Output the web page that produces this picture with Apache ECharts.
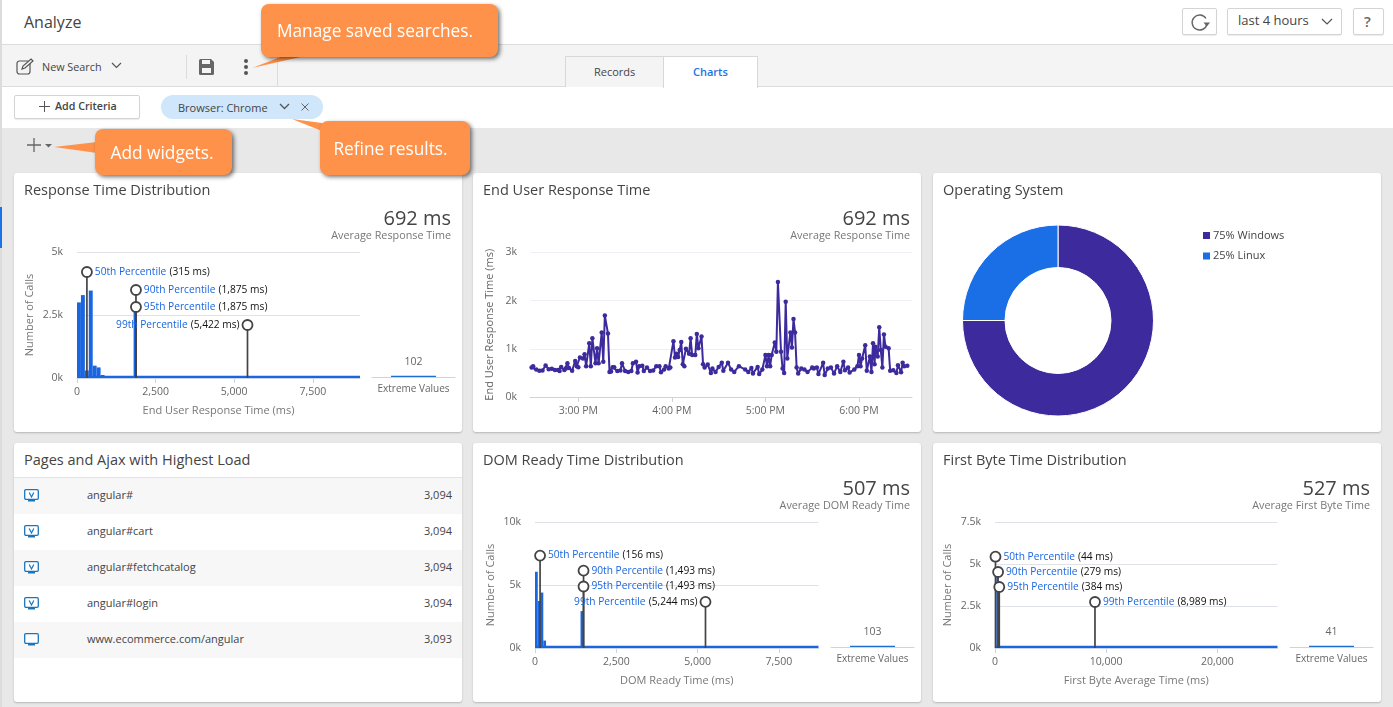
<!DOCTYPE html>
<html>
<head>
<meta charset="utf-8">
<title>Analyze</title>
<script src="https://cdn.jsdelivr.net/npm/echarts@6/dist/echarts.min.js"></script>
<style>
html,body{margin:0;padding:0;width:1393px;height:707px;overflow:hidden;background:#e8e8e8;font-family:"Open Sans",sans-serif;color:#444;}
.box{position:absolute;box-sizing:border-box;}
.txt{position:absolute;white-space:nowrap;line-height:1;}
.btn{position:absolute;box-sizing:border-box;background:#fff;border:1px solid #d4d4d4;border-radius:2px;box-shadow:0 1px 1px rgba(0,0,0,.08);}
.card{position:absolute;width:448px;height:259px;background:#fff;border-radius:3px;box-shadow:0 1px 2px rgba(0,0,0,.22);}
.callout{position:absolute;box-sizing:border-box;background:#ff924a;border-radius:8px;box-shadow:2px 2px 4px rgba(0,0,0,.55);color:#fff;font-size:17.3px;display:flex;align-items:center;justify-content:center;white-space:nowrap;z-index:21;}
svg{position:absolute;overflow:visible;}
.row{position:absolute;left:0;width:448px;height:36px;}
</style>
</head>
<body>
<!-- top bar -->
<div class="box" style="left:0;top:0;width:1393px;height:45px;background:#fff;border-bottom:1px solid #dcdcdc"></div>
<div class="box" style="left:0;top:45px;width:1393px;height:42px;background:#f4f4f4;border-bottom:1px solid #dcdcdc"></div>
<div class="box" style="left:0;top:87px;width:1393px;height:41px;background:#fff"></div>
<div class="box" style="left:0;top:0;width:2px;height:707px;background:#dcdcdc"></div>
<div class="box" style="left:0;top:207px;width:2px;height:41px;background:#1a73e8"></div>
<div class="txt" style="left:24px;top:14px;font-size:16px">Analyze</div>
<div class="btn" style="left:1182px;top:8px;width:35px;height:27px"></div>
<svg style="left:1190px;top:13px" width="20" height="18" viewBox="0 0 20 18"><path d="M16 5.500A7.500 7.500 0 1 0 17 11" fill="none" stroke="#666" stroke-width="1.400"/><path d="M13.500 9.500h6.500l-3.200 4z" fill="#666"/></svg>
<div class="btn" style="left:1227px;top:8px;width:115px;height:27px"></div>
<div class="txt" style="left:1238px;top:14px;font-size:13px">last 4 hours</div>
<svg style="left:1321px;top:18px" width="12" height="8"><path d="M1 1l5 5 5-5" fill="none" stroke="#555" stroke-width="1.2"/></svg>
<div class="btn" style="left:1353px;top:8px;width:31px;height:27px"></div>
<div class="txt" style="left:1364px;top:14px;font-size:15px;font-weight:600;color:#666">?</div>
<!-- toolbar -->
<svg style="left:16px;top:58px" width="20" height="18" viewBox="0 0 20 18"><rect x="1" y="3" width="13" height="13" rx="2.5" fill="none" stroke="#555" stroke-width="1.2"/><path d="M6 11l1-3 8-7 2 2-8 7z" fill="#f4f4f4" stroke="#555" stroke-width="1.2"/></svg>
<div class="txt" style="left:42px;top:61.700px;font-size:10.8px">New Search</div>
<svg style="left:111px;top:62px" width="12" height="8"><path d="M1 1l4.5 4.5L10 1" fill="none" stroke="#555" stroke-width="1.2"/></svg>
<div class="box" style="left:186px;top:55px;width:1px;height:24px;background:#dcdcdc"></div>
<svg style="left:198px;top:58px" width="17" height="18" viewBox="0 0 17 18"><path d="M1 2.5Q1 1 2.5 1H13l3 3v11.5Q16 17 14.500 17h-12Q1 17 1 15.500z" fill="#666"/><rect x="4" y="2" width="8" height="4" fill="#f4f4f4"/><rect x="4" y="10" width="9" height="5" fill="#f4f4f4"/></svg>
<svg style="left:243px;top:58px" width="6" height="18"><circle cx="3" cy="3" r="2" fill="#555"/><circle cx="3" cy="9" r="2" fill="#555"/><circle cx="3" cy="15" r="2" fill="#555"/></svg>
<div class="box" style="left:277px;top:45px;width:1px;height:42px;background:#dcdcdc"></div>
<div class="box" style="left:565px;top:56px;width:99px;height:31px;background:#f4f4f4;border:1px solid #d8d8d8;border-bottom:none"></div>
<div class="txt" style="left:594px;top:65.500px;font-size:11px">Records</div>
<div class="box" style="left:663px;top:56px;width:95px;height:32px;background:#fff;border:1px solid #d8d8d8;border-bottom:none"></div>
<div class="txt" style="left:693px;top:65.500px;font-size:11px;font-weight:600;color:#1a73e8">Charts</div>
<!-- criteria bar -->
<div class="btn" style="left:14px;top:95px;width:126px;height:24px"></div>
<svg style="left:39px;top:101px" width="11" height="11"><path d="M5.500 0v11M0 5.500h11" stroke="#555" stroke-width="1"/></svg>
<div class="txt" style="left:55px;top:101.200px;font-size:10.7px;font-weight:600">Add Criteria</div>
<div class="box" style="left:161px;top:95px;width:162px;height:24px;background:#cfe6fb;border-radius:12px"></div>
<div class="txt" style="left:178px;top:102px;font-size:11px">Browser: Chrome</div>
<svg style="left:279px;top:103px" width="12" height="8"><path d="M1 1l4.500 4.500L10 1" fill="none" stroke="#555" stroke-width="1.300"/></svg>
<svg style="left:301px;top:103px" width="8" height="8"><path d="M.5.5l7 7M7.500.5l-7 7" stroke="#666" stroke-width="1"/></svg>
<!-- add widget -->
<svg style="left:27px;top:138px" width="28" height="14"><path d="M7 0v14M0 7h14" stroke="#666" stroke-width="1.300"/><path d="M18 6h7l-3.500 3.500z" fill="#666"/></svg>

<!-- panels -->
<div class="card" style="left:14px;top:173px" id="rtDistID"></div>
<div class="card" style="left:473px;top:173px" id="rtLineID"></div>
<div class="card" style="left:933px;top:173px" id="osPieID"></div>
<div class="card" style="left:14px;top:443px" id="pagesID"></div>
<div class="card" style="left:473px;top:443px" id="domDistID"></div>
<div class="card" style="left:933px;top:443px" id="fbDistID"></div>

<!-- callouts -->
<svg style="left:0;top:0;z-index:20" width="1393" height="707">
	<polygon points="252,68 283,56 305,56" fill="#ff924a"/>
	<polygon points="54,147 97,142 97,153" fill="#ff924a"/>
	<polygon points="292,119 322,123 322,131" fill="#ff924a"/>
</svg>
<div class="callout" style="left:261px;top:4px;width:237px;height:53px;padding-right:9px">Manage saved searches.</div>
<div class="callout" style="left:95px;top:129px;width:137px;height:46px;padding-right:3px">Add widgets.</div>
<div class="callout" style="left:320px;top:121px;width:150px;height:54px;padding-right:9px">Refine results.</div>

<script>
//Response time distribution
var rtBinStarts=[0,125,250,375,500,625,750,1800,0];
var rtBinEnds=[125,250,375,500,625,750,875,1900,9000];
var rtBinCounts=[3000,3290,300,3470,490,420,120,2800,90];
var rtPctNames=["50th Percentile","90th Percentile","95th Percentile","99th Percentile"];
var rtPctValues=[315,1875,1875,5422];
var rtPctHeights=[4206,3492,2817,2103];
var rtExtreme=[102];
//DOM ready distribution
var domBinStarts=[0,85,170,255,1400,0];
var domBinEnds=[85,170,255,340,1490,8720];
var domBinCounts=[6050,3730,4400,590,2930,180];
var domPctValues=[156,1493,1493,5244];
var domPctHeights=[7336,6136,4880,3656];
var domExtreme=[103];
//First byte distribution
var fbBinStarts=[0,130,260,0];
var fbBinEnds=[130,260,390,25400];
var fbBinCounts=[4600,4400,3600,135];
var fbPctValues=[44,279,384,8989];
var fbPctHeights=[5434,4524,3630,2738];
var fbExtreme=[41];
//End user response time: minutes after 14:00, ms
var lineMinutes=[30,31,33,35,37,39,41,43,45,47,48,49,51,52,53,54,56,58,59,60,61,63,64,65,67,68,69,71,72,73,75,76,77,79,80,81,82,83,85,87,88,90,92,94,95,97,98,99,101,102,104,106,108,110,112,113,115,116,118,119,121,122,123,124,125,126,127,128,129,131,132,133,135,136,137,139,140,141,143,145,146,148,150,152,153,156,158,160,163,167,169,171,172,175,176,178,180,181,182,183,184,186,187,188,190,191,192,193,194,196,197,198,199,200,201,203,205,207,210,211,213,214,217,218,220,222,224,226,228,230,231,233,234,237,239,240,241,242,244,245,247,248,249,250,250.500,252,253,254,255,256,257,259,260,262,264,265,267,268,269,271];
var lineValues=[610,640,570,545,550,655,575,585,560,560,540,625,560,590,700,600,545,750,640,620,820,800,890,640,1115,640,1220,700,1010,700,1340,730,1690,1320,520,530,620,620,540,550,700,540,520,540,700,730,510,640,650,540,610,540,550,640,640,515,570,640,590,610,1160,820,900,830,975,1140,680,640,1000,900,1220,870,870,1310,1010,1255,680,610,675,500,590,520,625,710,545,710,570,520,640,570,520,600,490,625,475,570,870,640,870,640,870,1130,940,2390,940,590,500,1980,800,1340,1030,1620,1340,610,490,590,570,520,610,590,610,475,710,455,590,610,490,640,520,730,555,610,510,570,640,870,640,800,1075,545,840,520,1115,680,1045,840,1450,975,610,1300,1045,1010,545,555,500,660,515,710,640,650];
//Operating system
var osNames=["Windows","Linux"];
var osShares=[75,25];
//Pages table
var pageNames=["angular#","angular#cart","angular#fetchcatalog","angular#login","www.ecommerce.com/angular"];
var pageLoads=["3,094","3,094","3,094","3,094","3,093"];

var FONT='"Open Sans",sans-serif';
var BLUE='#1a66e0';
var PURPLE='#3d2a9c';
var AXIS_COLOR='#c8d5e8';
var GRID_COLOR='#dfe3e9';

function kLabel(value){
	return (value/1000)+'k';
}
function thousands(value){
	return String(value).replace(/\B(?=(\d{3})+$)/g,',');
}
function panelTitles(title, big, small){
	var list=[{text:title, left:5, top:5, textStyle:{fontFamily:FONT, fontSize:14.500, fontWeight:'normal', color:'#444'}}];
	if(big!=null){
		list.push({text:big, right:6, top:31, textStyle:{fontFamily:FONT, fontSize:20, fontWeight:'normal', color:'#444'}});
		list.push({text:small, right:6, top:52, textStyle:{fontFamily:FONT, fontSize:10.800, fontWeight:'normal', color:'#777'}});
	}
	return list;
}

function showHistogram(domID, cfg){
	var chart=echarts.init(document.getElementById(domID));
	var bins=[];
	for(var i=0;i<cfg.starts.length;i++){
		bins.push([cfg.starts[i],cfg.ends[i],cfg.counts[i]]);
	}
	var stems=[];
	var heads=[];
	for(var j=0;j<cfg.pctValues.length;j++){
		stems.push([cfg.pctValues[j],cfg.pctHeights[j]]);
		heads.push({
			value:[cfg.pctValues[j],cfg.pctHeights[j]],
			label:{
				position:cfg.leftLabel.indexOf(j)>=0?'left':'right',
				formatter:'{n|'+rtPctNames[j]+'} {v|('+thousands(cfg.pctValues[j])+' ms)}'
			}
		});
	}
	var option={
		animation:false,
		textStyle:{fontFamily:FONT},
		title:panelTitles(cfg.title,cfg.big,cfg.small),
		grid:[
			{left:cfg.gridLeft, top:79, width:cfg.gridWidth, height:126},
			{left:cfg.extLeft, top:79, width:83, height:125}
		],
		xAxis:[{
			gridIndex:0, type:'value', min:0, max:cfg.xMax,
			name:cfg.xName, nameLocation:'middle', nameGap:27,
			nameTextStyle:{fontSize:11, color:'#777'},
			axisLine:{show:true, onZero:false, lineStyle:{color:AXIS_COLOR}},
			axisTick:{show:true, length:5, lineStyle:{color:AXIS_COLOR}, customValues:cfg.xTicks},
			axisLabel:{fontSize:10.500, color:'#666', margin:9, customValues:cfg.xTicks, formatter:thousands},
			splitLine:{show:false}
		},{
			gridIndex:1, type:'category', data:['Extreme Values'],
			axisLine:{lineStyle:{color:AXIS_COLOR}},
			axisTick:{show:false},
			axisLabel:{fontSize:10, color:'#666', margin:7}
		}],
		yAxis:[{
			gridIndex:0, type:'value', min:0, max:cfg.yMax, interval:cfg.yStep,
			name:'Number of Calls', nameLocation:'middle', nameGap:cfg.yNameGap, nameRotate:90, nameMoveOverlap:false,
			nameTextStyle:{fontSize:11, color:'#777'},
			axisLine:{show:false}, axisTick:{show:false},
			axisLabel:{fontSize:10.500, color:'#666', margin:14, formatter:kLabel},
			splitLine:{lineStyle:{color:GRID_COLOR}}
		},{
			gridIndex:1, type:'value', min:0, max:cfg.extMax, show:false
		}],
		series:[{
			type:'custom', xAxisIndex:0, yAxisIndex:0, z:2, silent:true,
			encode:{x:[0,1], y:2},
			data:bins,
			renderItem:function(params, api){
				var a=api.coord([api.value(0),api.value(2)]);
				var b=api.coord([api.value(1),0]);
				return {type:'rect', shape:{x:a[0],y:a[1],width:b[0]-a[0],height:b[1]-a[1]}, style:{fill:BLUE}};
			}
		},{
			type:'custom', xAxisIndex:0, yAxisIndex:0, z:3, silent:true,
			encode:{x:0, y:1},
			data:stems,
			renderItem:function(params, api){
				var a=api.coord([api.value(0),api.value(1)]);
				var b=api.coord([api.value(0),0]);
				return {type:'line', shape:{x1:a[0],y1:a[1],x2:b[0],y2:b[1]}, style:{stroke:'#444', lineWidth:1.700}};
			}
		},{
			type:'scatter', xAxisIndex:0, yAxisIndex:0, z:4, silent:true,
			symbol:'circle', symbolSize:10,
			itemStyle:{color:'#fff', borderColor:'#444', borderWidth:1.800, opacity:1},
			label:{show:true, distance:2, rich:{
				n:{fontFamily:FONT, fontSize:10.200, color:'#1a66e0'},
				v:{fontFamily:FONT, fontSize:10.200, color:'#111'}
			}},
			data:heads
		},{
			type:'bar', xAxisIndex:1, yAxisIndex:1, barWidth:45, silent:true,
			itemStyle:{color:'#1a6fd0'},
			label:{show:true, position:'top', distance:8, fontSize:10.500, color:'#666'},
			data:cfg.extreme
		}]
	};
	chart.setOption(option);
	return chart;
}

function showResponseLine(){
	var chart=echarts.init(document.getElementById('rtLineID'));
	var points=[];
	for(var i=0;i<lineMinutes.length;i++){
		points.push([new Date(2020,0,1,14,0,lineMinutes[i]*60).getTime(),lineValues[i]]);
	}
	var option={
		animation:false,
		textStyle:{fontFamily:FONT},
		title:panelTitles('End User Response Time','692 ms','Average Response Time'),
		grid:{left:57, top:79.500, width:382, height:144.500},
		xAxis:{
			type:'time',
			min:new Date(2020,0,1,14,29).getTime(),
			max:new Date(2020,0,1,18,34).getTime(),
			minInterval:3600000, maxInterval:3600000,
			axisLine:{lineStyle:{color:AXIS_COLOR}},
			axisTick:{show:true, length:5, lineStyle:{color:AXIS_COLOR}},
			axisLabel:{fontSize:10.500, color:'#666', margin:9, hideOverlap:false, formatter:function(value){
				var h=new Date(value).getHours();
				return (h%12||12)+':00 '+(h<12?'AM':'PM');
			}},
			splitLine:{show:false}
		},
		yAxis:{
			type:'value', min:0, max:3000, interval:1000,
			name:'End User Response Time (ms)', nameLocation:'middle', nameGap:35, nameRotate:90, nameMoveOverlap:false,
			nameTextStyle:{fontSize:11, color:'#666'},
			axisLine:{show:false}, axisTick:{show:false},
			axisLabel:{fontSize:10.500, color:'#666', margin:13, formatter:kLabel},
			splitLine:{lineStyle:{color:'#eceff3'}}
		},
		series:[{
			type:'line', data:points, silent:true,
			symbol:'circle', symbolSize:4.500, showSymbol:true,
			lineStyle:{color:PURPLE, width:2},
			itemStyle:{color:PURPLE}
		}]
	};
	chart.setOption(option);
}

function showOsPie(){
	var chart=echarts.init(document.getElementById('osPieID'));
	var slices=[];
	for(var i=0;i<osNames.length;i++){
		slices.push({name:osNames[i],value:osShares[i]});
	}
	var option={
		animation:false,
		textStyle:{fontFamily:FONT},
		color:[PURPLE,'#1a6ee6'],
		title:panelTitles('Operating System'),
		legend:{
			orient:'vertical', left:263, top:52, itemWidth:9, itemHeight:9, itemGap:9.500,
			icon:'rect', selectedMode:false,
			textStyle:{fontSize:11, color:'#444', padding:[0,0,0,-3]},
			formatter:function(name){
				return osShares[osNames.indexOf(name)]+'% '+name;
			}
		},
		series:[{
			type:'pie', center:[125,147.500], radius:[53,95.500], startAngle:90, silent:true,
			label:{show:false}, labelLine:{show:false},
			itemStyle:{borderColor:'#fff', borderWidth:1},
			data:slices
		}]
	};
	chart.setOption(option);
}

//plain html table
function showPages(){
	var el=document.getElementById('pagesID');
	var html='<div class="txt" style="left:10px;top:10px;font-size:14.5px">Pages and Ajax with Highest Load</div>'
		+'<div class="box" style="left:0;top:34px;width:448px;height:1px;background:#e3e3e3"></div>';
	for(var i=0;i<pageNames.length;i++){
		var mark=i<4?'<path d="M5.200 3.500l2.300 4.500 2.300-4.500" fill="none" stroke="#1b75bb" stroke-width="1.200"/>':'';
		html+='<div class="row" style="top:'+(35+i*36)+'px;background:'+(i%2==0?'#f7f7f7':'#fff')+'">'
			+'<svg style="left:10px;top:11px" width="15" height="14" viewBox="0 0 15 14"><rect x=".7" y=".7" width="13.600" height="9.600" rx="1.200" fill="#fff" stroke="#1b75bb" stroke-width="1.300"/><rect x="4" y="11" width="7" height="1.500" fill="#1b75bb"/>'+mark+'</svg>'
			+'<div class="txt" style="left:73px;top:11px;font-size:11px">'+pageNames[i]+'</div>'
			+'<div class="txt" style="right:10px;top:11px;font-size:11px">'+pageLoads[i]+'</div></div>';
	}
	el.innerHTML=html;
}

showHistogram('rtDistID',{
	title:'Response Time Distribution', big:'692 ms', small:'Average Response Time',
	starts:rtBinStarts, ends:rtBinEnds, counts:rtBinCounts,
	pctValues:rtPctValues, pctHeights:rtPctHeights, leftLabel:[3], extreme:rtExtreme,
	xName:'End User Response Time (ms)', xMax:9000, xTicks:[0,2500,5000,7500],
	yMax:5000, yStep:2500, extMax:10000, gridLeft:63, gridWidth:283, extLeft:358, yNameGap:42
});
showResponseLine();
showOsPie();
showPages();
showHistogram('domDistID',{
	title:'DOM Ready Time Distribution', big:'507 ms', small:'Average DOM Ready Time',
	starts:domBinStarts, ends:domBinEnds, counts:domBinCounts,
	pctValues:domPctValues, pctHeights:domPctHeights, leftLabel:[3], extreme:domExtreme,
	xName:'DOM Ready Time (ms)', xMax:8720, xTicks:[0,2500,5000,7500],
	yMax:10000, yStep:5000, extMax:10000, gridLeft:62, gridWidth:283.500, extLeft:358, yNameGap:39
});
showHistogram('fbDistID',{
	title:'First Byte Time Distribution', big:'527 ms', small:'Average First Byte Time',
	starts:fbBinStarts, ends:fbBinEnds, counts:fbBinCounts,
	pctValues:fbPctValues, pctHeights:fbPctHeights, leftLabel:[], extreme:fbExtreme,
	xName:'First Byte Average Time (ms)', xMax:25400, xTicks:[0,10000,20000],
	yMax:7500, yStep:2500, extMax:4000, gridLeft:62, gridWidth:282.500, extLeft:357, yNameGap:42
});
</script>
</body>
</html>
